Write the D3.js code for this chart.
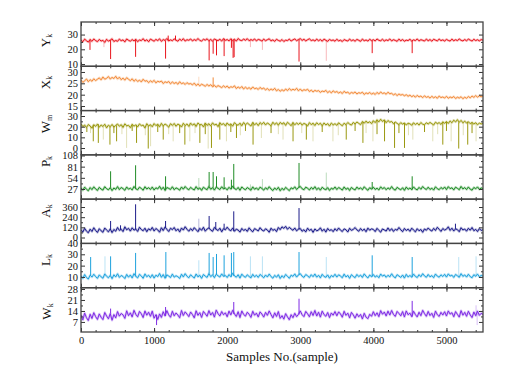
<!DOCTYPE html>
<html>
<head>
<meta charset="utf-8">
<script src="https://cdn.jsdelivr.net/npm/d3@7"></script>
<style>
    body { margin: 0; background: #fff; }
    svg { display: block; font-family: 'Liberation Serif', 'Times New Roman', serif; }
</style>
</head>
<body>
<svg id="chart"></svg>
<script>
// one value every 25 samples, 0 .. 5500
const sampleStep = 25;
const sampleTicks = [0, 1000, 2000, 3000, 4000, 5000];

const ykValues = [
    26.3,25.1,26.9,25.8,24.9,26.6,25.4,27.0,25.9,25.2,
    26.7,25.6,26.1,24.7,26.8,25.5,26.2,27.1,25.3,26.0,
    25.4,26.9,25.8,26.4,25.0,27.0,26.1,25.5,26.6,25.7,
    26.8,25.2,26.3,25.9,27.2,25.6,26.5,25.1,26.9,26.2,
    25.5,26.7,25.9,27.1,25.4,26.6,26.0,27.3,25.7,26.4,
    25.8,27.0,26.2,25.5,26.9,25.9,27.2,25.6,26.5,26.1,
    27.0,25.7,26.6,25.9,27.3,26.0,25.6,26.8,26.2,27.1,
    25.8,26.7,25.5,27.0,26.3,25.9,26.8,25.6,27.2,26.1,
    26.6,25.7,27.1,26.0,26.8,25.6,27.3,26.2,25.9,26.9,
    26.1,27.2,25.8,26.6,26.0,27.0,25.7,26.7,26.3,25.6,
    26.9,25.8,26.5,27.1,25.7,26.4,25.4,26.8,26.0,25.5,
    26.6,25.3,26.2,25.9,26.9,25.6,26.4,27.0,25.8,26.6,
    27.2,26.0,26.8,25.7,26.5,27.1,25.9,26.4,25.6,26.9,
    25.8,26.6,25.5,26.9,26.1,25.4,26.7,25.9,26.3,25.5,
    26.8,25.7,26.2,25.3,26.6,26.0,25.6,26.9,25.8,26.4,
    25.5,26.7,26.1,25.4,26.9,25.8,26.3,25.6,26.8,25.9,
    26.5,25.7,27.0,26.1,25.8,26.8,25.6,26.4,25.9,27.0,
    25.7,26.5,26.0,25.4,26.9,25.8,26.6,25.5,26.2,25.9,
    26.8,25.6,26.4,25.9,27.0,25.7,26.5,26.1,25.6,26.9,
    25.8,26.6,25.5,26.8,26.2,25.7,26.9,25.9,26.4,25.6,
    26.7,26.0,25.6,26.9,25.8,26.5,25.9,27.0,26.1,25.7,
    26.6,25.8,26.9,26.2,25.6,26.8,25.9,26.5,25.7,26.6,
    26.2
];
// [sample, value]
const ykSpikes = [[123,19.6],[405,13.4],[747,14.9],[1157,13.7],[1193,29.3],[1293,29.3],[1753,12.5],[1808,17],
    [1854,15.9],[1958,15.4],[2058,21],[2081,14.2],[2095,14.7],[2983,11.7],[3984,17.4],[4531,17.4]];
const ykFaint = [[314,21.5],[2318,21.5],[2482,19.6],[3356,12.2]];
const ykTicks = [10, 20, 30];

const xkValues = [
    26.5,25.4,26.1,26.9,25.7,26.6,25.9,27.0,26.2,26.8,
    27.4,26.5,27.8,26.8,27.2,28.0,26.9,27.6,27.1,28.1,
    26.9,27.7,26.6,27.3,26.4,27.5,26.8,26.2,27.0,25.9,
    26.7,25.8,26.4,25.6,26.8,25.9,26.2,25.3,26.1,25.5,
    26.3,25.2,25.9,25.6,26.0,24.9,25.7,25.3,25.8,24.8,
    25.6,24.9,25.4,24.6,25.7,24.8,25.2,24.5,25.3,24.7,
    24.9,24.3,25.1,24.0,24.7,23.9,24.6,24.2,23.7,24.5,
    23.8,24.4,23.5,24.1,23.3,24.0,23.6,23.1,23.9,23.2,
    23.8,22.9,23.5,23.2,23.9,22.7,23.4,22.8,23.6,22.5,
    23.3,22.6,23.1,22.4,23.4,22.6,22.9,22.3,23.2,22.5,
    22.9,22.1,22.7,21.9,22.5,22.0,22.8,21.7,22.3,21.5,
    22.2,21.6,22.5,21.8,22.7,21.9,22.4,22.0,22.8,21.7,
    22.5,21.6,22.2,21.9,22.4,21.4,22.0,21.2,21.9,21.5,
    21.8,21.0,21.6,21.3,21.9,20.9,21.5,20.8,21.7,21.0,
    21.4,20.7,21.2,20.5,21.5,20.8,21.1,20.4,21.0,20.6,
    21.2,20.3,20.9,20.6,21.1,20.1,20.8,20.4,21.0,20.2,
    20.7,20.1,21.0,20.3,21.2,20.5,20.8,20.2,21.1,20.4,
    20.6,19.9,20.4,19.6,20.3,19.8,20.1,19.5,20.0,19.3,
    19.8,19.1,19.6,18.9,19.7,19.0,19.4,18.7,19.5,18.8,
    19.2,18.5,19.3,18.6,19.1,18.4,19.4,18.7,19.0,18.5,
    19.3,18.4,19.0,18.6,19.2,18.3,18.9,18.5,19.1,18.2,
    18.9,18.4,19.2,18.6,19.4,18.8,19.6,18.9,19.5,19.1,
    19.4
];
const xkSpikes = [[1808,27.6]];
const xkFaint = [[1612,27.9]];
const xkTicks = [15, 20, 25, 30];

const wmValues = [
    22.6,20.1,21.5,19.2,22.0,20.7,18.6,21.8,20.3,22.4,
    19.5,21.6,20.2,22.3,18.9,21.4,20.0,22.1,19.7,21.2,
    22.5,20.4,21.9,19.3,22.7,20.8,21.3,19.1,22.2,20.5,
    21.7,19.8,22.6,20.9,21.5,18.8,22.8,20.6,21.9,19.9,
    22.9,21.0,22.3,19.9,23.1,20.7,22.5,21.3,19.6,22.8,
    21.2,23.0,20.4,22.4,21.6,19.7,23.2,21.0,22.6,20.3,
    23.3,21.4,22.7,20.2,23.5,21.8,22.1,19.8,23.4,21.2,
    22.8,20.6,23.6,21.5,22.4,20.0,23.7,21.9,22.9,20.8,
    23.5,21.3,22.6,20.5,23.8,22.0,21.4,23.3,20.9,23.9,
    21.7,23.4,22.1,20.6,24.0,21.8,23.2,21.0,23.8,22.2,
    24.1,21.6,23.5,22.3,20.8,24.2,22.0,23.6,21.4,24.0,
    22.4,23.7,21.2,24.1,22.6,20.9,23.9,21.8,23.4,22.1,
    23.6,21.5,23.1,22.2,20.7,23.8,21.9,23.3,21.1,23.7,
    22.0,23.2,20.8,23.5,21.6,22.9,20.6,23.4,21.7,22.8,
    21.3,23.6,22.1,20.9,23.3,21.8,23.9,22.4,21.5,24.0,
    22.6,24.4,23.1,21.9,24.8,23.3,25.2,23.6,24.6,22.9,
    25.6,23.8,26.4,24.5,27.0,24.9,26.3,23.7,25.8,24.2,
    24.9,22.8,24.3,23.1,21.9,23.8,22.4,23.5,21.6,23.2,
    22.7,21.4,23.6,22.0,23.3,21.5,23.9,22.3,21.8,23.7,
    22.5,24.0,22.8,21.6,24.2,22.9,23.8,22.1,24.5,23.2,
    24.8,23.0,25.4,23.7,26.1,24.4,26.6,24.1,25.9,23.6,
    25.2,23.4,24.6,22.8,24.0,22.5,23.7,21.9,23.3,22.6,
    23.0
];
const wmSpikes = [[80,15],[168,6.3],[237,4.8],[396,3.2],[450,14],[487,6.3],[700,16],[760,4.8],[920,-0.5],
    [1050,15],[1125,7.9],[1350,14],[1421,3.2],[1626,4.8],[1700,13],[1785,0.1],[1899,7.9],[2050,15],
    [2127,9.4],[2250,16],[2354,3.2],[2600,14],[2901,6.3],[3083,7.9],[3300,15],[3629,7.9],[3750,16],
    [3857,4.8],[4050,13],[4153,6.3],[4290,0.1],[4350,14],[4426,0.1],[4700,15],[4950,3.2],[5000,16],
    [5168,-0.5],[5291,3.2],[5350,14]];
const wmFaint = [[305,7.9],[624,0.1],[952,1.7],[1261,6.3],[1489,6.3],[1740,-0.5],[1990,6.3],[2468,9.4],
    [2764,7.9],[3174,6.3],[3447,6.3],[3994,6.3],[4540,7.9],[4813,6.3],[5064,6.3],[5405,6.3],
    [130,14],[560,13],[880,12],[1200,13],[1560,14],[2180,12],[2700,13],[3020,14],[3520,12],
    [3900,14],[4480,12],[4880,13],[5230,12]];
const wmTicks = [0, 10, 20, 30];

const pkValues = [
    29.8,24.1,31.5,26.3,22.8,30.4,25.5,32.2,27.0,23.6,
    31.0,26.8,24.4,32.6,27.7,25.0,30.1,23.3,29.4,26.1,
    32.8,25.6,30.7,27.9,23.9,31.9,26.5,29.0,24.7,33.1,
    27.4,25.2,31.4,28.3,24.0,32.5,26.9,30.3,25.8,31.7,
    24.6,29.9,27.2,33.4,25.9,31.2,23.7,30.6,28.4,26.0,
    32.3,25.3,29.7,27.5,24.2,31.8,26.6,33.0,28.0,25.1,
    30.9,27.3,24.8,32.7,26.2,29.5,23.8,31.3,27.8,25.4,
    33.3,26.4,30.2,24.5,31.6,28.6,25.7,32.4,27.1,29.2,
    24.9,31.1,26.7,33.6,28.1,25.6,30.8,23.9,32.0,27.6,
    25.2,30.5,27.4,24.1,32.1,26.3,29.6,25.0,31.5,28.2,
    24.3,30.0,26.0,32.5,27.0,23.4,29.3,25.4,31.0,22.9,
    28.7,24.6,30.9,26.9,23.1,29.8,27.2,32.3,25.8,30.4,
    33.2,27.6,25.3,31.4,28.8,24.7,30.7,26.5,32.6,25.5,
    29.6,24.2,31.2,27.3,25.1,30.3,23.6,29.1,26.4,31.9,
    25.7,30.6,27.9,24.4,32.0,26.1,29.4,23.5,30.8,27.0,
    24.8,31.7,26.8,29.9,25.3,32.4,27.5,24.0,30.2,26.6,
    31.3,25.9,28.9,24.6,32.2,27.4,30.5,25.2,29.7,26.3,
    32.9,26.7,24.3,31.0,27.8,25.0,30.1,23.8,31.6,26.2,
    29.3,25.5,32.1,27.1,24.9,30.9,26.4,33.0,28.3,25.8,
    31.4,26.0,29.0,24.5,32.3,27.7,25.4,30.6,26.9,31.8,
    25.6,32.7,27.9,30.0,24.8,31.5,28.5,25.3,33.2,27.2,
    30.4,25.7,31.9,26.6,24.2,30.8,27.5,32.0,26.1,29.5,
    27.9
];
const pkSpikes = [[405,69.8],[747,84.3],[1157,57.7],[1753,68.1],[1808,68.1],[1854,57.7],[1958,55.3],
    [2058,49.5],[2090,87.5],[2983,89.9],[3984,43.9],[4531,57.7]];
const pkFaint = [[1612,53.6],[2318,38],[2482,50.9],[3356,66.7]];
const pkTicks = [27, 54, 81, 108];

const akValues = [
    92,64,108,75,56,98,71,115,83,60,
    104,79,62,112,88,67,101,58,95,74,
    118,84,97,70,126,91,108,76,114,87,
    99,72,121,94,80,110,68,103,86,119,
    77,106,90,63,115,82,124,96,71,109,
    93,118,79,101,66,112,88,127,97,74,
    105,81,116,92,69,108,85,121,75,100,
    113,88,73,119,96,82,110,67,104,91,
    122,93,80,111,74,99,87,64,107,83,
    96,72,114,86,68,105,92,78,116,89,
    76,103,88,62,110,84,97,70,118,93,
    126,108,131,97,120,101,85,112,79,98,
    106,74,92,66,110,83,97,61,101,79,
    88,114,75,98,64,107,82,93,69,104,
    79,112,87,71,102,91,65,109,84,96,
    117,90,74,106,81,99,68,111,86,102,
    95,70,108,84,63,101,89,76,113,80,
    104,72,97,86,118,91,69,107,82,99,
    73,110,88,67,104,79,95,62,101,85,
    112,90,76,108,83,120,97,72,106,88,
    98,126,84,110,77,102,93,68,115,89,
    100,75,109,86,118,80,96,71,105,83,
    92
];
const akSpikes = [[405,195],[541,144],[747,392],[1157,195],[1753,254],[1844,183],[1958,163],
    [2090,309],[2983,348],[5123,163]];
const akFaint = [[1612,222]];
const akTicks = [0, 120, 240, 360];

const lkValues = [
    11.0,8.7,12.1,9.5,8.2,11.6,9.9,12.4,10.3,8.8,
    11.8,10.1,8.9,12.6,10.6,9.3,11.4,8.5,11.9,10.0,
    12.8,9.6,11.3,10.4,8.6,12.2,9.8,11.7,9.1,12.9,
    10.5,9.2,12.3,10.9,8.8,12.7,10.2,11.5,9.4,12.0,
    9.0,11.6,10.3,13.1,9.7,12.1,8.9,11.8,10.8,9.5,
    12.5,9.8,11.1,10.2,8.7,12.4,10.0,12.9,10.6,9.3,
    11.9,10.4,9.1,12.6,10.1,11.4,8.8,12.2,10.7,9.6,
    13.0,10.3,11.8,9.4,12.4,11.0,9.9,12.7,10.5,11.3,
    9.5,12.1,10.2,13.2,10.9,9.8,12.0,9.0,12.5,10.6,
    9.7,11.9,10.4,9.2,12.3,10.1,11.5,9.6,12.2,10.8,
    9.3,11.7,10.0,12.6,10.3,8.9,11.4,9.8,12.0,8.7,
    11.1,9.4,12.2,10.6,8.8,11.6,10.5,12.7,9.9,11.8,
    12.9,10.7,9.6,12.1,11.0,9.5,12.0,10.2,12.6,9.8,
    11.5,9.2,12.3,10.4,9.7,11.8,8.9,11.3,10.1,12.4,
    9.9,11.9,10.8,9.3,12.5,10.0,11.4,8.8,12.0,10.5,
    9.4,12.2,10.3,11.6,9.6,12.7,10.6,9.1,11.7,10.2,
    12.1,9.9,11.2,9.3,12.6,10.7,11.8,9.7,11.5,10.1,
    12.8,10.4,9.2,12.0,10.8,9.6,11.7,9.0,12.3,10.0,
    11.3,9.8,12.5,10.5,9.5,12.0,10.2,12.9,10.9,9.7,
    12.2,10.1,11.2,9.4,12.6,10.7,9.8,11.9,10.4,12.3,
    9.9,12.7,10.8,11.6,9.6,12.2,11.0,9.7,12.9,10.5,
    11.8,9.9,12.4,10.3,9.3,12.0,10.6,12.5,10.1,11.4,
    10.8
];
const lkSpikes = [[132,27.6],[405,28.2],[747,31.2],[1161,32],[1753,31.2],[1808,27.6],[1854,30.3],
    [1958,29.1],[2058,31.2],[2090,32],[2983,32],[3984,29.1],[4531,27.6]];
const lkFaint = [[328,28.2],[1612,24.7],[2318,28.2],[2482,28.2],[3356,27.6],[5168,27.6],[5405,28.2]];
const lkTicks = [10, 20, 30, 40];

const wkValues = [
    11.4,8.3,12.6,9.7,7.9,11.9,9.2,12.9,10.4,8.6,
    12.1,10.0,8.5,13.0,10.8,9.0,12.3,8.1,11.7,9.6,
    13.6,10.7,12.4,11.5,9.3,14.1,11.0,12.8,10.2,14.4,
    11.8,10.3,13.7,12.2,9.8,14.0,11.3,13.2,10.6,13.9,
    9.4,11.6,8.6,12.1,9.9,13.5,10.8,14.2,11.5,10.0,
    13.8,10.9,12.7,11.4,9.7,14.3,11.1,13.4,12.0,10.4,
    13.3,11.7,9.6,14.1,11.2,12.9,9.9,13.7,12.2,10.6,
    14.2,11.4,13.0,10.1,14.5,12.3,10.8,13.6,11.6,12.8,
    10.3,13.9,11.5,14.4,12.1,10.5,13.5,9.8,14.0,11.8,
    10.7,13.2,11.9,9.9,13.8,11.3,12.6,10.2,13.4,12.0,
    10.1,13.1,11.2,14.0,11.7,9.6,12.8,10.5,13.6,9.3,
    11.0,8.8,12.3,10.2,8.4,11.6,9.7,12.5,10.4,11.8,
    14.0,11.6,10.4,13.7,12.2,10.3,13.5,11.1,14.3,10.8,
    13.2,10.1,13.9,11.7,10.6,13.0,9.8,12.7,11.3,13.6,
    10.9,13.4,12.1,10.0,13.8,11.2,12.6,9.6,13.1,11.5,
    9.4,12.2,10.3,11.8,8.9,12.5,10.0,9.1,11.9,10.6,
    13.5,11.0,12.8,10.4,14.2,11.9,13.3,10.8,13.9,11.4,
    14.3,11.8,10.5,13.7,12.4,10.9,13.6,10.2,14.0,11.6,
    12.6,10.4,13.8,11.7,10.2,13.2,11.0,14.4,12.3,10.6,
    13.7,11.1,12.5,9.9,13.9,11.6,10.5,13.1,11.4,13.5,
    10.8,14.0,12.0,12.9,10.3,13.6,11.8,10.1,14.2,11.3,
    13.1,10.6,13.8,11.5,9.8,13.3,11.0,13.9,11.2,12.5,
    11.8
];
const wkSpikes = [[405,15.5],[1034,5],[1157,16.5],[2090,19.7],[2983,21.8],[4531,20.4]];
const wkFaint = [[5405,17.6],[5420,5]];
const wkTicks = [7, 14, 21, 28];

class StackedSeries {
    constructor (config, panels) {
        this.config = {
            parent: config.parent,
            width: config.width || 522,
            height: config.height || 377,
            margin: config.margin || {top:22, right:39, bottom:45, left:81},
            xmax: config.xmax || 5500
        };
        this.panels = panels;
        this.init();
    }

    init() {
        let self = this;

        self.svg = d3.select(self.config.parent)
            .attr('width', self.config.width)
            .attr('height', self.config.height);

        self.inner_width = self.config.width - self.config.margin.left - self.config.margin.right;
        self.inner_height = self.config.height - self.config.margin.top - self.config.margin.bottom;
        self.panel_height = self.inner_height / self.panels.length;

        self.chart = self.svg.append('g')
            .attr('transform', `translate(${self.config.margin.left}, ${self.config.margin.top})`);

        self.xscale = d3.scaleLinear()
            .domain([0, self.config.xmax])
            .range([0, self.inner_width]);
    }

    render() {
        let self = this;
        let minor_x = d3.range(0, self.config.xmax + 1, 200);
        let last = self.panels.length - 1;

        self.panels.forEach((p, i) => {
            let top = i * self.panel_height;
            let bottom = top + self.panel_height;
            let yscale = d3.scaleLinear()
                .domain(p.domain)
                .range([bottom, top]);
            let base = s => p.values[Math.round(s / sampleStep)];

            let g = self.chart.append('g');

            g.append('clipPath')
                .attr('id', `clip${i}`)
                .append('rect')
                .attr('x', 0)
                .attr('y', top)
                .attr('width', self.inner_width)
                .attr('height', self.panel_height);

            let marks = g.append('g')
                .attr('clip-path', `url(#clip${i})`);

            marks.selectAll('line.faint')
                .data(p.faint)
                .join('line')
                .attr('class', 'faint')
                .attr('x1', d => self.xscale(d[0]))
                .attr('x2', d => self.xscale(d[0]))
                .attr('y1', d => yscale(base(d[0])))
                .attr('y2', d => yscale(d[1]))
                .attr('stroke', p.color)
                .attr('stroke-opacity', 0.3)
                .attr('stroke-width', 1);

            let line = d3.line()
                .x((d, j) => self.xscale(j * sampleStep))
                .y(d => yscale(d));

            // light fringe under the trace
            marks.append('path')
                .datum(p.values)
                .attr('d', line)
                .attr('fill', 'none')
                .attr('stroke', p.color)
                .attr('stroke-opacity', 0.3)
                .attr('stroke-width', 2.4)
                .attr('stroke-linejoin', 'round');

            marks.append('path')
                .datum(p.values)
                .attr('d', line)
                .attr('fill', 'none')
                .attr('stroke', p.color)
                .attr('stroke-width', 1)
                .attr('stroke-linejoin', 'round');

            marks.selectAll('line.spike')
                .data(p.spikes)
                .join('line')
                .attr('class', 'spike')
                .attr('x1', d => self.xscale(d[0]))
                .attr('x2', d => self.xscale(d[0]))
                .attr('y1', d => yscale(base(d[0])))
                .attr('y2', d => yscale(d[1]))
                .attr('stroke', p.color)
                .attr('stroke-width', 1);

            // y ticks, inward on both sides
            let minor_y = p.ticks.slice(0, -1).map((t, k) => (t + p.ticks[k + 1]) / 2);
            g.append('g')
                .attr('class', 'axis')
                .call(d3.axisLeft(yscale).tickValues(p.ticks).tickSizeInner(-4).tickSizeOuter(0).tickPadding(3));
            g.append('g')
                .attr('class', 'axis')
                .call(d3.axisLeft(yscale).tickValues(minor_y).tickSizeInner(-2).tickSizeOuter(0).tickFormat(''));
            g.append('g')
                .attr('class', 'axis')
                .attr('transform', `translate(${self.inner_width}, 0)`)
                .call(d3.axisRight(yscale).tickValues(p.ticks).tickSizeInner(-4).tickSizeOuter(0).tickFormat(''));
            g.append('g')
                .attr('class', 'axis')
                .attr('transform', `translate(${self.inner_width}, 0)`)
                .call(d3.axisRight(yscale).tickValues(minor_y).tickSizeInner(-2).tickSizeOuter(0).tickFormat(''));

            // x ticks, inward at top and bottom of every panel
            g.append('g')
                .attr('class', 'axis')
                .attr('transform', `translate(0, ${top})`)
                .call(d3.axisTop(self.xscale).tickValues(sampleTicks).tickSizeInner(-4).tickSizeOuter(0).tickFormat(''));
            g.append('g')
                .attr('class', 'axis')
                .attr('transform', `translate(0, ${top})`)
                .call(d3.axisTop(self.xscale).tickValues(minor_x).tickSizeInner(-2).tickSizeOuter(0).tickFormat(''));
            g.append('g')
                .attr('class', 'axis')
                .attr('transform', `translate(0, ${bottom})`)
                .call(d3.axisBottom(self.xscale).tickValues(sampleTicks).tickSizeInner(-4).tickSizeOuter(0).tickPadding(5)
                    .tickFormat(i == last ? d3.format('d') : ''));
            g.append('g')
                .attr('class', 'axis')
                .attr('transform', `translate(0, ${bottom})`)
                .call(d3.axisBottom(self.xscale).tickValues(minor_x).tickSizeInner(-2).tickSizeOuter(0).tickFormat(''));

            g.append('rect')
                .attr('x', 0)
                .attr('y', top)
                .attr('width', self.inner_width)
                .attr('height', self.panel_height)
                .attr('fill', 'none')
                .attr('stroke', '#444')
                .attr('stroke-width', 1.3);

            // rotated panel label with subscript
            let label = self.svg.append('text')
                .attr('transform', `translate(${p.labelX}, ${p.labelY}) rotate(-90)`)
                .attr('text-anchor', 'middle')
                .style('font-size', '13px')
                .attr('fill', '#111');
            label.append('tspan').text(p.name);
            label.append('tspan')
                .attr('dy', '0.3em')
                .style('font-size', '8px')
                .text(p.sub);
        });

        self.chart.selectAll('.axis path').remove();
        self.chart.selectAll('.axis line').attr('stroke', '#333');
        self.chart.selectAll('.axis text')
            .style('font-size', '10.5px')
            .style('font-family', "'Liberation Serif', 'Times New Roman', serif")
            .attr('fill', '#111');

        self.svg.append('text')
            .attr('x', self.config.margin.left + self.inner_width / 2)
            .attr('y', 361)
            .attr('text-anchor', 'middle')
            .style('font-size', '13px')
            .attr('fill', '#111')
            .text('Samples No.(sample)');
    }
}

let panels = [
    {name:'Y', sub:'k', values:ykValues, spikes:ykSpikes, faint:ykFaint, ticks:ykTicks, domain:[8.5, 38.5], color:'#e8151d', labelX:50, labelY:40.5},
    {name:'X', sub:'k', values:xkValues, spikes:xkSpikes, faint:xkFaint, ticks:xkTicks, domain:[13, 32.5], color:'#f28b3a', labelX:50, labelY:82.5},
    {name:'W', sub:'m', values:wmValues, spikes:wmSpikes, faint:wmFaint, ticks:wmTicks, domain:[-6.4, 35.1], color:'#9a980f', labelX:50, labelY:124},
    {name:'P', sub:'k', values:pkValues, spikes:pkSpikes, faint:pkFaint, ticks:pkTicks, domain:[2.5, 109.5], color:'#1f8c26', labelX:50, labelY:161.5},
    {name:'A', sub:'k', values:akValues, spikes:akSpikes, faint:akFaint, ticks:akTicks, domain:[-70, 453], color:'#1c1c8a', labelX:50, labelY:211},
    {name:'L', sub:'k', values:lkValues, spikes:lkSpikes, faint:lkFaint, ticks:lkTicks, domain:[0.5, 39.6], color:'#1ea2dd', labelX:50, labelY:260},
    {name:'W', sub:'k', values:wkValues, spikes:wkSpikes, faint:wkFaint, ticks:wkTicks, domain:[0.6, 28.8], color:'#7e2be4', labelX:51, labelY:311.5}
];

let chart = new StackedSeries({parent:'#chart', width:522, height:377}, panels);
chart.render();
</script>
</body>
</html>
